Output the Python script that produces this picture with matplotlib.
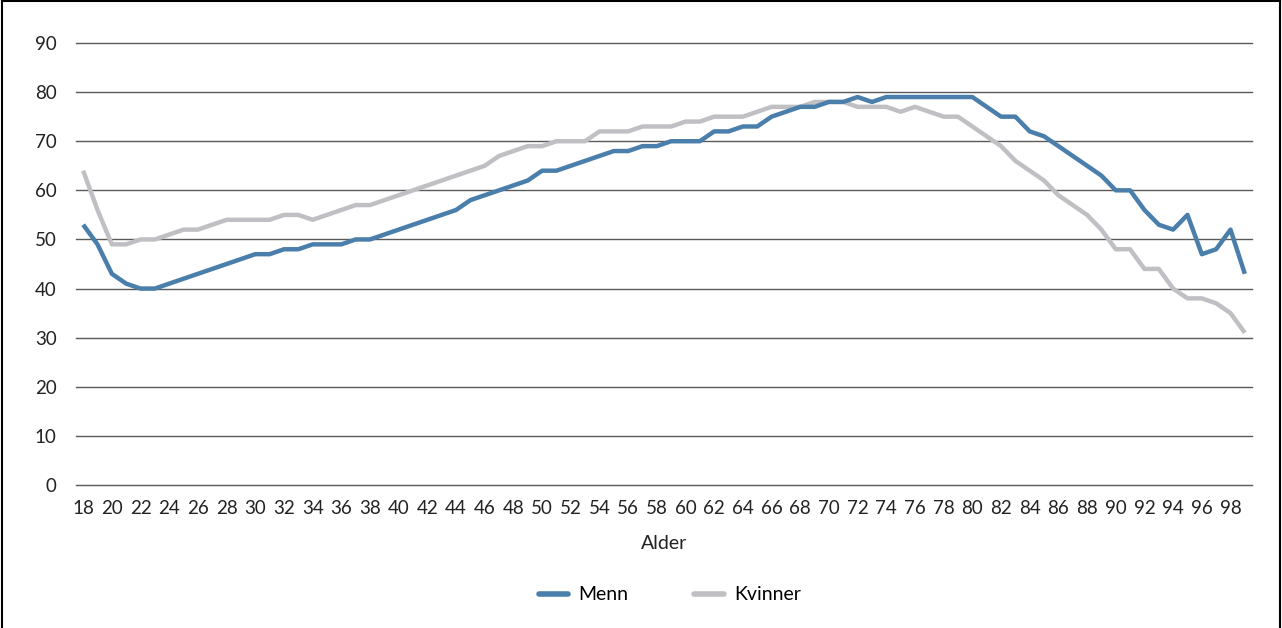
import matplotlib.pyplot as plt
from matplotlib.lines import Line2D

plt.rcParams['font.family'] = ['Lato', 'DejaVu Sans']

ages = list(range(18, 100))

menn = [53, 49, 43, 41, 40, 40, 41, 42, 43, 44,   # 18-27
        45, 46, 47, 47, 48, 48, 49, 49, 49, 50,   # 28-37
        50, 51, 52, 53, 54, 55, 56, 58, 59, 60,   # 38-47
        61, 62, 64, 64, 65, 66, 67, 68, 68, 69,   # 48-57
        69, 70, 70, 70, 72, 72, 73, 73, 75, 76,   # 58-67
        77, 77, 78, 78, 79, 78, 79, 79, 79, 79,   # 68-77
        79, 79, 79, 77, 75, 75, 72, 71, 69, 67,   # 78-87
        65, 63, 60, 60, 56, 53, 52, 55, 47, 48,   # 88-97
        52, 43]                                   # 98-99

kvinner = [64, 56, 49, 49, 50, 50, 51, 52, 52, 53,   # 18-27
           54, 54, 54, 54, 55, 55, 54, 55, 56, 57,   # 28-37
           57, 58, 59, 60, 61, 62, 63, 64, 65, 67,   # 38-47
           68, 69, 69, 70, 70, 70, 72, 72, 72, 73,   # 48-57
           73, 73, 74, 74, 75, 75, 75, 76, 77, 77,   # 58-67
           77, 78, 78, 78, 77, 77, 77, 76, 77, 76,   # 68-77
           75, 75, 73, 71, 69, 66, 64, 62, 59, 57,   # 78-87
           55, 52, 48, 48, 44, 44, 40, 38, 38, 37,   # 88-97
           35, 31]                                   # 98-99

blue = '#4a7eab'
grey = '#c0c0c4'

fig = plt.figure(figsize=(12.82, 6.28), dpi=100)
ax = fig.add_axes([76 / 1282, 1 - 485 / 628, (1252 - 76) / 1282, (485 - 43) / 628])

ax.plot(ages, kvinner, color=grey, linewidth=3.2, label='Kvinner', solid_capstyle='butt')
ax.plot(ages, menn, color=blue, linewidth=3.2, label='Menn', solid_capstyle='butt')

ax.set_xlim(17.5, 99.5)
ax.set_ylim(0, 90)
ax.set_yticks(range(0, 91, 10))
ax.set_xticks(range(18, 99, 2))
ax.yaxis.grid(True, color='#5a5a5a', linewidth=1)
for gl in ax.get_ygridlines():
    gl.set_clip_on(False)
ax.set_axisbelow(True)
ax.tick_params(axis='both', length=0, labelsize=13.5, colors='#222222')
ax.tick_params(axis='y', pad=14)
ax.tick_params(axis='x', pad=11)
for s in ax.spines.values():
    s.set_visible(False)

ax.set_xlabel('Alder', fontsize=14, color='#222222', labelpad=13)

handles, labels = ax.get_legend_handles_labels()
leg = ax.legend(handles[::-1], labels[::-1], loc='upper center',
                bbox_to_anchor=(0.505, -0.19), ncol=2,
                frameon=False, fontsize=14, handlelength=1.5,
                columnspacing=3.4, handletextpad=0.55)
for h in leg.get_lines():
    h.set_linewidth(4)
    h.set_solid_capstyle('round')

# frame drawn around the figure (open at the bottom)
for xs, ys in [([0.0015, 0.0015], [0, 0.998]),
               ([0.0015, 0.9985], [0.998, 0.998]),
               ([0.9985, 0.9985], [0, 0.998])]:
    fig.add_artist(Line2D(xs, ys, color='black', linewidth=1.5,
                          transform=fig.transFigure))

fig.savefig('out.png', dpi=100)
